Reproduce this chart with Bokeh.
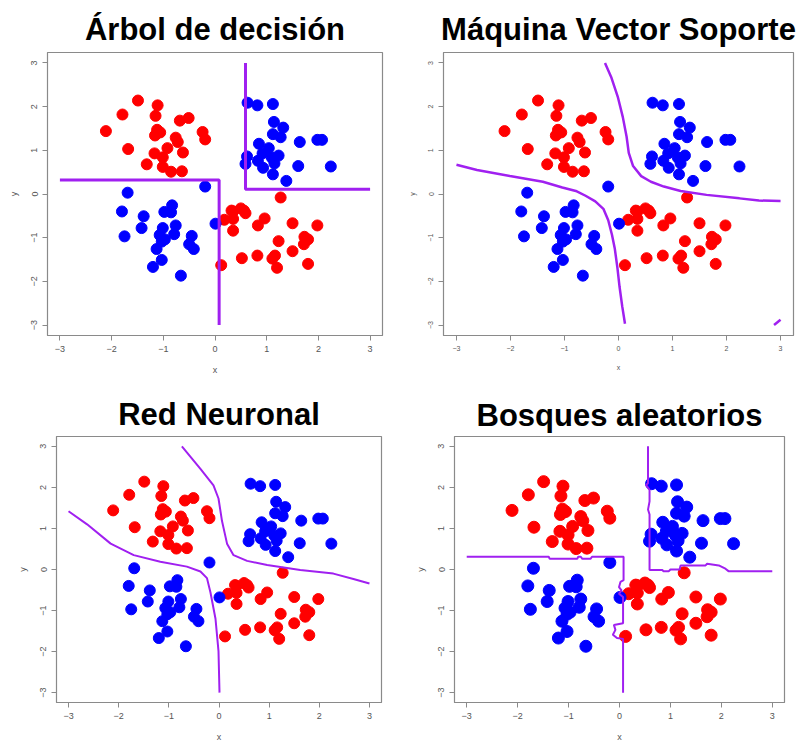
from bokeh.plotting import figure
from bokeh.layouts import column, row
from bokeh.models import FixedTicker
from bokeh.embed import file_html
from bokeh.resources import INLINE

# ---------------- data ----------------
red_x = [-1.49, -1.11, -1.79, -1.15, -0.68, -0.51, -2.11, -1.12, -1.06, -1.16, -0.24, -0.19,
         -0.76, -0.72, -1.68, -0.92, -1.17, -0.62, -1.01, -1.32, -1.01, -0.85, -0.64,
         1.27, 0.35, 0.50, 0.56, 0.59, 0.32, 0.35, 0.18, 0.96, 0.83, 1.50, 1.98, 0.35,
         1.23, 1.73, 1.80, 1.72, 1.50, 1.16, 1.11, 0.82, 0.52, 1.20, 1.80, 0.12]
red_y = [2.14, 2.03, 1.82, 1.79, 1.68, 1.74, 1.44, 1.47, 1.41, 1.34, 1.42, 1.25,
         1.29, 1.19, 1.03, 1.05, 0.93, 0.95, 0.84, 0.68, 0.62, 0.51, 0.52,
         -0.08, -0.40, -0.33, -0.38, -0.44, -0.38, -0.57, -0.59, -0.56, -0.72, -0.67, -0.72, -0.84,
         -1.08, -0.98, -1.04, -1.15, -1.31, -1.41, -1.48, -1.41, -1.47, -1.69, -1.60, -1.63]

blue_x = [0.63, 0.82, 1.12, 1.14, 1.32, 1.12, 1.27, 1.64, 1.98, 2.07, 0.85, 1.04, 0.92,
          0.62, 1.10, 1.23, 0.83, 1.15, 0.59, 0.93, 1.61, 2.24, 1.12, 1.38,
          -0.19, -1.69, -1.80, -1.38, -0.83, -0.98, -0.85, 0.01, -1.42, -1.01, -0.76,
          -1.75, -1.07, -0.79, -0.45, -0.97, -1.03, -0.50, -0.41, -1.13, -1.03, -1.20, -0.66]
blue_y = [2.09, 2.03, 2.06, 1.65, 1.52, 1.37, 1.30, 1.19, 1.24, 1.24, 1.15, 1.05, 0.93,
          0.86, 0.83, 0.88, 0.76, 0.70, 0.69, 0.60, 0.64, 0.63, 0.45, 0.30,
          0.17, 0.03, -0.40, -0.51, -0.26, -0.41, -0.42, -0.68, -0.78, -0.78, -0.72,
          -0.97, -0.94, -0.92, -0.96, -1.04, -1.09, -1.15, -1.26, -1.26, -1.51, -1.67, -1.87]

ticks = [-3, -2, -1, 0, 1, 2, 3]

# decision tree boundary
tree_a_x = [-3.0, 0.08, 0.08]
tree_a_y = [0.32, 0.32, -3.0]
tree_b_x = [0.59, 0.59, 3.0]
tree_b_y = [3.0, 0.11, 0.11]

# SVM boundary
svm_a_x = [-3.00, -2.62, -2.01, -1.40, -1.04, -0.79, -0.61, -0.43, -0.28, -0.19, -0.12, -0.07, -0.02, 0.02, 0.07, 0.12]
svm_a_y = [0.67, 0.55, 0.41, 0.28, 0.15, 0.07, -0.04, -0.17, -0.34, -0.60, -0.94, -1.24, -1.69, -2.13, -2.58, -2.97]
svm_b_x = [-0.25, -0.13, -0.01, 0.08, 0.15, 0.19, 0.27, 0.42, 0.60, 0.84, 1.15, 1.63, 2.24, 2.60, 3.00]
svm_b_y = [3.00, 2.66, 2.21, 1.76, 1.31, 0.94, 0.64, 0.41, 0.28, 0.17, 0.07, -0.02, -0.10, -0.15, -0.16]
svm_c_x = [2.88, 3.00]
svm_c_y = [-3.00, -2.88]

# neural network boundary
nn_a_x = [-3.00, -2.63, -2.16, -1.70, -1.17, -0.64, -0.37, -0.24, -0.17, -0.07, -0.01, 0.01]
nn_a_y = [1.42, 1.10, 0.63, 0.35, 0.19, 0.07, -0.05, -0.21, -0.56, -1.20, -1.99, -3.00]
nn_b_x = [-0.74, -0.37, -0.11, -0.01, 0.06, 0.16, 0.29, 0.56, 0.96, 1.62, 2.28, 2.68, 3.00]
nn_b_y = [3.00, 2.45, 2.05, 1.73, 1.18, 0.63, 0.35, 0.21, 0.11, -0.01, -0.10, -0.23, -0.34]

# random forest boundary
rf_a_x = [-3.00, -1.39, -1.37, -0.83, -0.81, -0.76, -0.73, -0.57, -0.54, 0.08, 0.08, 0.02, -0.01,
          0.04, -0.01, 0.07, 0.07, -0.11, -0.08, -0.13, -0.05, 0.07, 0.07]
rf_a_y = [0.31, 0.31, 0.26, 0.26, 0.31, 0.31, 0.26, 0.26, 0.31, 0.31, -0.26, -0.30, -0.43,
          -0.51, -0.59, -0.67, -1.31, -1.35, -1.47, -1.59, -1.67, -1.69, -3.00]
rf_b_x = [0.56, 0.56, 0.52, 0.59, 0.59, 0.56, 0.59, 0.59, 0.84, 0.86, 0.97, 1.00, 1.18, 1.20,
          1.69, 1.72, 1.95, 2.08, 2.14, 3.00]
rf_b_y = [3.00, 2.10, 2.06, 1.94, 1.66, 1.46, 1.34, -0.01, -0.01, -0.04, -0.04, 0.00, 0.00, 0.10,
          0.10, 0.14, 0.10, 0.02, -0.04, -0.04]

titles = ["Árbol de decisión", "Máquina Vector Soporte", "Red Neuronal", "Bosques aleatorios"]

PURPLE = "#a020f0"
FONT = "Liberation Sans"


def make_fig(title, w, h, bl, br, bt, bb, tick_px, pt_size, standoff):
    p = figure(width=w, height=h, x_range=(-3.24, 3.24), y_range=(-3.24, 3.24),
               output_backend="svg", toolbar_location=None, title=title,
               min_border_left=bl, min_border_right=br, min_border_top=bt, min_border_bottom=bb)
    p.title.text_font = FONT
    p.title.text_font_size = "31px"
    p.title.text_font_style = "bold"
    p.title.text_color = "black"
    p.title.align = "center"
    p.title.standoff = standoff
    p.xgrid.visible = False
    p.ygrid.visible = False
    p.outline_line_color = "#8a8a8a"
    p.outline_line_width = 1.2
    p.background_fill_color = "white"
    p.border_fill_color = "white"
    for ax in (p.xaxis, p.yaxis):
        ax.ticker = FixedTicker(ticks=ticks)
        ax.minor_tick_line_color = None
        ax.major_tick_in = 0
        ax.major_tick_out = 5
        ax.major_tick_line_color = "#8a8a8a"
        ax.axis_line_color = "#8a8a8a"
        ax.major_label_text_font = FONT
        ax.major_label_text_font_size = tick_px
        ax.major_label_text_color = "#555555"
        ax.major_label_standoff = 5
        ax.axis_label_text_font = FONT
        ax.axis_label_text_font_size = tick_px
        ax.axis_label_text_font_style = "normal"
        ax.axis_label_text_color = "#555555"
        ax.axis_label_standoff = 10
    p.xaxis.axis_label = "x"
    p.yaxis.axis_label = "y"
    p.yaxis.major_label_orientation = "vertical"
    p.scatter(red_x, red_y, size=pt_size, fill_color="#ff0000", line_color="#ff0000")
    p.scatter(blue_x, blue_y, size=pt_size, fill_color="#0000ff", line_color="#0000ff")
    return p


p1 = make_fig(titles[0], 405, 380, 47, 23, 52, 45, "9px", 11, 11)
p1.line(tree_a_x, tree_a_y, line_color=PURPLE, line_width=3)
p1.line(tree_b_x, tree_b_y, line_color=PURPLE, line_width=3)

p2 = make_fig(titles[1], 400, 380, 32, 12, 51, 40, "7px", 11, 12)
p2.line(svm_a_x, svm_a_y, line_color=PURPLE, line_width=2.5)
p2.line(svm_b_x, svm_b_y, line_color=PURPLE, line_width=2.5)
p2.line(svm_c_x, svm_c_y, line_color=PURPLE, line_width=2.5)

p3 = make_fig(titles[2], 405, 364, 56, 24, 53, 38, "9px", 11, 10)
p3.line(nn_a_x, nn_a_y, line_color=PURPLE, line_width=2)
p3.line(nn_b_x, nn_b_y, line_color=PURPLE, line_width=2)

p4 = make_fig(titles[3], 400, 364, 49, 21, 56, 37, "9px", 12, 7)
p4.line(rf_a_x, rf_a_y, line_color=PURPLE, line_width=2)
p4.line(rf_b_x, rf_b_y, line_color=PURPLE, line_width=2)

layout = column(row(p1, p2), row(p3, p4))

open("out.html", "w").write(file_html(layout, INLINE))
